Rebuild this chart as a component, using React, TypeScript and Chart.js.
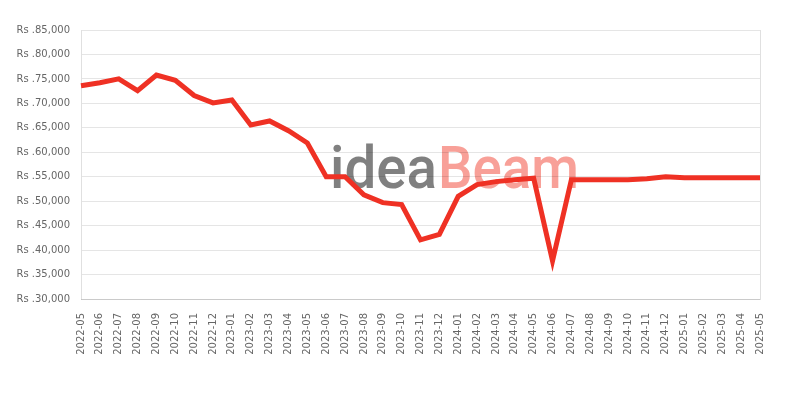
import React, { useEffect, useRef } from "react";
import { Chart, registerables } from "chart.js";

Chart.register(...registerables);

const categories: string[] = [
  "2022-05", "2022-06", "2022-07", "2022-08", "2022-09", "2022-10", "2022-11", "2022-12",
  "2023-01", "2023-02", "2023-03", "2023-04", "2023-05", "2023-06", "2023-07", "2023-08",
  "2023-09", "2023-10", "2023-11", "2023-12", "2024-01", "2024-02", "2024-03", "2024-04",
  "2024-05", "2024-06", "2024-07", "2024-08", "2024-09", "2024-10", "2024-11", "2024-12",
  "2025-01", "2025-02", "2025-03", "2025-04", "2025-05",
];

const prices: number[] = [
  73600, 74200, 75000, 72600, 75800, 74700, 71600, 70100,
  70700, 65600, 66400, 64400, 61900, 55000, 55000, 51300,
  49700, 49300, 42100, 43200, 51000, 53400, 54000, 54400,
  54700, 37800, 54400, 54400, 54400, 54400, 54600, 55000,
  54800, 54800, 54800, 54800, 54800,
];

const yMin = 30000;
const yMax = 85000;
const yStep = 5000;

const watermarkParts: string[] = ["idea", "Beam"];

const watermarkPlugin = {
  id: "watermark",
  beforeDraw(chart: any) {
    const ctx = chart.ctx as CanvasRenderingContext2D;
    ctx.save();
    const baseline = 188;
    const spans = [
      { text: watermarkParts[0], x: 330, w: 107, color: "rgb(128,128,128)" },
      { text: watermarkParts[1], x: 438, w: 141, color: "rgb(248,160,152)" },
    ];
    ctx.font = "500 60px Roboto";
    ctx.textBaseline = "alphabetic";
    ctx.textAlign = "left";
    for (const s of spans) {
      const m = ctx.measureText(s.text).width;
      ctx.save();
      ctx.translate(s.x, baseline);
      ctx.scale(s.w / m, 1);
      ctx.fillStyle = s.color;
      ctx.fillText(s.text, 0, 0);
      ctx.restore();
    }
    ctx.restore();
  },
  afterDraw(chart: any) {
    const { ctx, chartArea } = chart;
    ctx.save();
    ctx.strokeStyle = "rgba(0,0,0,0.12)";
    ctx.lineWidth = 1;
    ctx.beginPath();
    ctx.moveTo(Math.round(chartArea.right) + 0.5, chartArea.top);
    ctx.lineTo(Math.round(chartArea.right) + 0.5, chartArea.bottom);
    ctx.stroke();
    ctx.restore();
  },
};

export default function App() {
  const ref = useRef<HTMLCanvasElement | null>(null);
  useEffect(() => {
    if (!ref.current) return;
    const chart = new Chart(ref.current, {
      type: "line",
      data: {
        labels: categories,
        datasets: [
          {
            data: prices,
            borderColor: "#ef3124",
            backgroundColor: "#ef3124",
            borderWidth: 5,
            pointRadius: 0,
            pointHoverRadius: 0,
            tension: 0,
            fill: false,
          },
        ],
      },
      options: {
        animation: false,
        responsive: false,
        maintainAspectRatio: false,
        layout: { padding: { left: 0, top: 30, right: 40, bottom: 0 } },
        plugins: { legend: { display: false }, tooltip: { enabled: false } },
        scales: {
          x: {
            offset: false,
            grid: { display: false, drawTicks: false },
            border: { display: true, color: "rgba(0,0,0,0.12)" },
            ticks: {
              autoSkip: false,
              maxRotation: 90,
              minRotation: 90,
              padding: 14,
              color: "#666",
              font: { family: "'DejaVu Sans'", size: 10 },
            },
            afterFit: (scale: any) => {
              scale.height = 101;
            },
          },
          y: {
            min: yMin,
            max: yMax,
            grid: { color: "rgba(0,0,0,0.1)", drawTicks: false },
            border: { display: true, color: "rgba(0,0,0,0.12)" },
            ticks: {
              stepSize: yStep,
              padding: 11,
              color: "#666",
              font: { family: "'DejaVu Sans'", size: 10 },
              callback: (v: any) => "Rs ." + Number(v).toLocaleString("en-US"),
            },
            afterFit: (scale: any) => {
              scale.width = 81;
            },
          },
        },
      },
      plugins: [watermarkPlugin],
    });
    return () => chart.destroy();
  }, []);
  return (
    <div style={{ position: "fixed", left: 0, top: 0, width: 800, height: 400, background: "#fff" }}>
      <canvas ref={ref} width={800} height={400} style={{ width: 800, height: 400, display: "block" }} />
    </div>
  );
}
